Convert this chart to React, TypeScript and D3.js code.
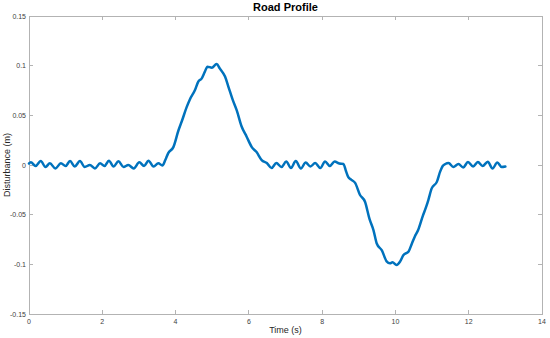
import * as d3 from "d3";

// values
const timeS = [
  0, 0.05, 0.18, 0.32, 0.45, 0.57, 0.72, 0.87, 1.0, 1.12, 1.25, 1.39, 1.52, 1.66, 1.8, 1.94,
  2.06, 2.18, 2.31, 2.44, 2.58, 2.71, 2.86, 3.01, 3.14, 3.26, 3.4, 3.53, 3.64,
  3.72, 3.8, 3.94, 4.08, 4.17, 4.3, 4.39, 4.53, 4.62, 4.71, 4.8, 4.87, 4.99, 5.12, 5.21,
  5.35, 5.44, 5.56, 5.67, 5.8, 5.94, 6.08, 6.21, 6.35, 6.49,
  6.62, 6.75, 6.89, 7.02, 7.15, 7.28, 7.42, 7.55, 7.68, 7.81, 7.95, 8.08, 8.21, 8.34, 8.47, 8.58,
  8.65, 8.71, 8.8, 8.9, 9.03, 9.17, 9.29, 9.4, 9.49, 9.63, 9.76, 9.85, 9.92, 10.03, 10.13,
  10.22, 10.36, 10.45, 10.53, 10.62, 10.75, 10.84, 10.9, 10.99, 11.13, 11.22, 11.29,
  11.36, 11.45, 11.58, 11.72, 11.85, 11.98, 12.12, 12.25, 12.38, 12.52, 12.65, 12.78, 12.9, 13.0,
];
const disturbanceM = [
  0.0015, 0.0027, -0.001, 0.004, -0.002, 0.0017, -0.0035, 0.0017, -0.001, 0.004, -0.0015, 0.004,
  -0.002, 0, -0.0035, 0.0017, -0.001, 0.0044, -0.0015, 0.0037, -0.002, 0, -0.0035, 0.0027, -0.001,
  0.0044, -0.0015, 0.0017, -0.0005,
  0.005, 0.012, 0.018, 0.035, 0.044, 0.058, 0.066, 0.0755, 0.084, 0.087, 0.094, 0.099, 0.098,
  0.1017, 0.097, 0.089, 0.079, 0.0655, 0.055, 0.039, 0.0285, 0.018, 0.013, 0.005, 0.002,
  -0.003, 0.002, -0.002, 0.0035, -0.003, 0.004, -0.0035, 0.0025, -0.0015, 0.002, -0.003, 0.0035,
  -0.001, 0.0035, 0.0015, 0.001,
  -0.006, -0.012, -0.015, -0.018, -0.03, -0.037, -0.054, -0.0655, -0.079, -0.086, -0.097, -0.099,
  -0.098, -0.1007, -0.097, -0.0906, -0.087, -0.079, -0.072, -0.0655, -0.051, -0.042, -0.035,
  -0.0235, -0.017, -0.0067, -0.001,
  0.001, 0.002, -0.002, 0.001, -0.0025, 0.003, -0.0015, 0.003, -0.001, 0.0033, -0.0035, 0.0025,
  -0.002, -0.0015,
];
const xTicks = [0, 2, 4, 6, 8, 10, 12, 14];
const yTicks = [-0.15, -0.1, -0.05, 0, 0.05, 0.1, 0.15];

const W = 550;
const H = 338;
const left = 29;
const right = 542;
const top = 16;
const bottom = 314;

export default function App() {
  const x = d3.scaleLinear().domain([0, 14]).range([left, right]);
  const y = d3.scaleLinear().domain([-0.15, 0.15]).range([bottom, top]);

  const pts: [number, number][] = timeS.map((t, i) => [t, disturbanceM[i]]);
  const line = d3
    .line<[number, number]>()
    .x((d) => x(d[0]))
    .y((d) => y(d[1]))
    .curve(d3.curveMonotoneX);

  const font = "'Liberation Sans', Arial, Helvetica, sans-serif";
  const axisColor = "#b3b3b3";
  const textColor = "#404040";
  const tickLen = 4;

  return (
    <div style={{ position: "absolute", left: 0, top: 0 }}>
      <svg width={W} height={H} style={{ display: "block", fontFamily: font }}>
        <rect x={0} y={0} width={W} height={H} fill="#fff" />
        <rect
          x={left}
          y={top}
          width={right - left}
          height={bottom - top}
          fill="none"
          stroke={axisColor}
          strokeWidth={1}
          shapeRendering="crispEdges"
        />
        {xTicks.map((t) => (
          <g key={"x" + t}>
            <line x1={x(t)} x2={x(t)} y1={bottom} y2={bottom - tickLen} stroke={axisColor} shapeRendering="crispEdges" />
            <line x1={x(t)} x2={x(t)} y1={top} y2={top + tickLen} stroke={axisColor} shapeRendering="crispEdges" />
            <text x={x(t)} y={bottom + 10} fontSize={7} fill={textColor} textAnchor="middle">
              {t}
            </text>
          </g>
        ))}
        {yTicks.map((v) => (
          <g key={"y" + v}>
            <line x1={left} x2={left + tickLen} y1={y(v)} y2={y(v)} stroke={axisColor} shapeRendering="crispEdges" />
            <line x1={right} x2={right - tickLen} y1={y(v)} y2={y(v)} stroke={axisColor} shapeRendering="crispEdges" />
            <text x={left - 3} y={y(v) + 2.5} fontSize={7} fill={textColor} textAnchor="end">
              {v}
            </text>
          </g>
        ))}
        <path d={line(pts) ?? ""} fill="none" stroke="#0072BD" strokeWidth={2.5} strokeLinejoin="round" strokeLinecap="round" />
        <text x={(left + right) / 2} y={11} fontSize={11} fontWeight="bold" fill="#000" textAnchor="middle">
          Road Profile
        </text>
        <text x={(left + right) / 2} y={333} fontSize={9} fill="#262626" textAnchor="middle">
          Time (s)
        </text>
        <text
          transform={`translate(10, ${(top + bottom) / 2}) rotate(-90)`}
          fontSize={9}
          fill="#262626"
          textAnchor="middle"
        >
          Disturbance (m)
        </text>
      </svg>
    </div>
  );
}
